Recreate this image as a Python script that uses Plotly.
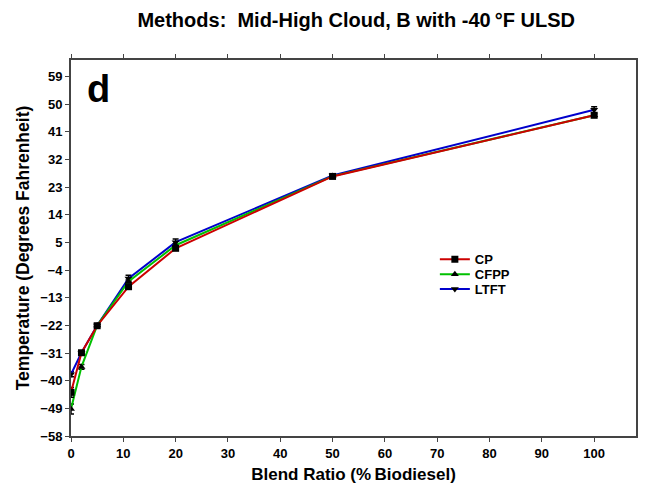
import plotly.graph_objects as go

blend = [0, 2, 5, 11, 20, 50, 100]
cp = [-43.8, -30.9, -22.1, -9.4, 3.1, 26.5, 46.4]
cp_err = [1.6, 0.5, 0.3, 0.5, 0.5, 0.3, 0.5]
cfpp = [-49.2, -35.5, -22.0, -7.7, 4.1, 26.6, 46.4]
cfpp_err = [1.6, 0.8, 0.3, 0.5, 0.5, 0.3, 0.5]
ltft = [-37.9, -30.9, -22.0, -6.7, 5.1, 26.8, 48.2]
ltft_err = [0.8, 0.5, 0.3, 1.0, 1.0, 0.3, 1.0]

y_ticks = [-58, -49, -40, -31, -22, -13, -4, 5, 14, 23, 32, 41, 50, 59]
x_ticks = [0, 10, 20, 30, 40, 50, 60, 70, 80, 90, 100]

FONT = "Arial, Liberation Sans, sans-serif"

fig = go.Figure()
series = [
    ("LTFT", ltft, ltft_err, "#0000cc", "triangle-down", "legend3"),
    ("CFPP", cfpp, cfpp_err, "#00c000", "triangle-up", "legend2"),
    ("CP", cp, cp_err, "#cc0000", "square", "legend"),
]
for name, vals, err, col, sym, leg in series:
    fig.add_trace(go.Scatter(
        x=blend, y=vals, name=name, mode="lines+markers", legend=leg,
        showlegend=True,
        line=dict(color=col, width=2),
        marker=dict(symbol=sym, size=7, color="black"),
        error_y=dict(type="data", array=err, visible=True, color="black",
                     thickness=1.5, width=3),
    ))

axis_common = dict(
    showline=True, linecolor="#444", linewidth=2, mirror="ticks",
    ticks="outside", ticklen=4, tickwidth=1.2, tickcolor="#444",
    showgrid=False, zeroline=False,
    tickfont=dict(family=FONT, size=13, color="black", weight="bold"),
)

legend_font = dict(family=FONT, size=13, color="black", weight="bold")
def leg(ypix):
    return dict(x=0.644, y=1 - (ypix - 52) / 379, xanchor="left", yanchor="middle",
                bgcolor="rgba(0,0,0,0)", itemwidth=30, font=legend_font)

fig.update_layout(
    width=646, height=485,
    paper_bgcolor="white", plot_bgcolor="white",
    margin=dict(l=63, r=13, t=52, b=54),
    showlegend=True,
    title=dict(text="Methods:\u00a0 Mid-High Cloud, B with -40\u2009°F ULSD",
               x=0.539, xanchor="center", y=0.975, yanchor="middle",
               font=dict(family=FONT, size=20, color="black", weight="bold")),
    xaxis=dict(range=[0, 108], tickvals=x_ticks,
               title=dict(text="Blend Ratio (%\u2009Biodiesel)", standoff=9,
                          font=dict(family=FONT, size=17, color="black", weight="bold")),
               **axis_common),
    yaxis=dict(range=[-58, 64.4], tickvals=y_ticks,
               title=dict(text="Temperature (Degrees Fahrenheit)", standoff=6,
                          font=dict(family=FONT, size=17.5, color="black", weight="bold")),
               **axis_common),
    legend=leg(253),
    legend2=leg(268),
    legend3=leg(283),
    annotations=[dict(text="d", xref="paper", yref="paper", x=0.025, y=0.985,
                      xanchor="left", yanchor="top", showarrow=False,
                      font=dict(family=FONT, size=38, color="black", weight="bold"))],
)

fig.write_html("out.html")
